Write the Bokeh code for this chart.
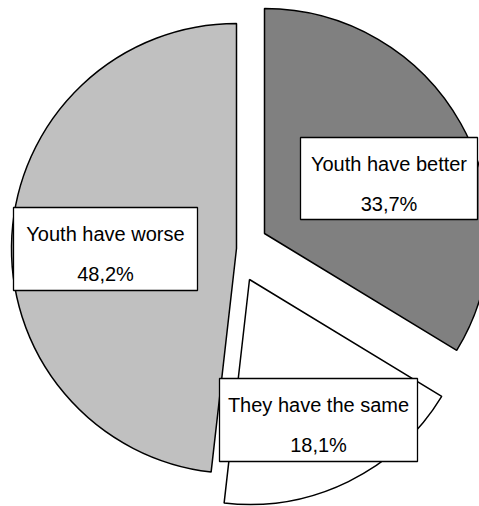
import math
from bokeh.plotting import figure
from bokeh.models import Range1d, ColumnDataSource
from bokeh.core.properties import value
from bokeh.embed import file_html
from bokeh.resources import INLINE

# ---- data ----
categories = ["Youth have better", "They have the same", "Youth have worse"]
shares = [33.7, 18.1, 48.2]
share_labels = ["33,7%", "18,1%", "48,2%"]
colors = ["#808080", "#ffffff", "#c0c0c0"]

# ---- layout (pixel positions, page coords) ----
W, H = 479, 506
radius_px = 225
slice_origin_px = [(264, 233), (249, 279), (236, 248)]
label_box_px = [(300, 137, 177, 82), (219, 378, 198, 83), (13, 207, 184, 83)]  # left, top, w, h

# angles: start at 12 o'clock, go clockwise
starts, ends = [], []
cum = 0.0
for s in shares:
    a0 = math.radians(90 - cum * 3.6)
    a1 = math.radians(90 - (cum + s) * 3.6)
    starts.append(a0)
    ends.append(a1)
    cum += s

wedges = ColumnDataSource(dict(
    x=[o[0] for o in slice_origin_px],
    y=[-o[1] for o in slice_origin_px],
    start=starts, end=ends, color=colors, cat=categories,
))

p = figure(width=W, height=H, output_backend="svg", toolbar_location=None,
           x_range=Range1d(0, W), y_range=Range1d(-H, 0),
           min_border=0, background_fill_color="white", border_fill_color="white")
p.axis.visible = False
p.grid.visible = False
p.outline_line_color = None

p.wedge(x="x", y="y", radius=radius_px, start_angle="start", end_angle="end",
        direction="clock", fill_color="color", line_color="black", line_width=1.5,
        source=wedges)

boxes = ColumnDataSource(dict(
    left=[b[0] for b in label_box_px],
    right=[b[0] + b[2] for b in label_box_px],
    top=[-b[1] for b in label_box_px],
    bottom=[-(b[1] + b[3]) for b in label_box_px],
))
p.quad(left="left", right="right", top="top", bottom="bottom", source=boxes,
       fill_color="white", line_color="black", line_width=1.3)

cx = [b[0] + b[2] / 2 for b in label_box_px]
p.text(x=cx, y=[-(b[1] + 26) for b in label_box_px], text=categories,
       text_font=value("Liberation Sans"), text_font_size="20px",
       text_align="center", text_baseline="alphabetic", text_color="black")
p.text(x=cx, y=[-(b[1] + 66) for b in label_box_px], text=share_labels,
       text_font=value("Liberation Sans"), text_font_size="20px",
       text_align="center", text_baseline="alphabetic", text_color="black")

open("out.html", "w").write(file_html(p, INLINE))
